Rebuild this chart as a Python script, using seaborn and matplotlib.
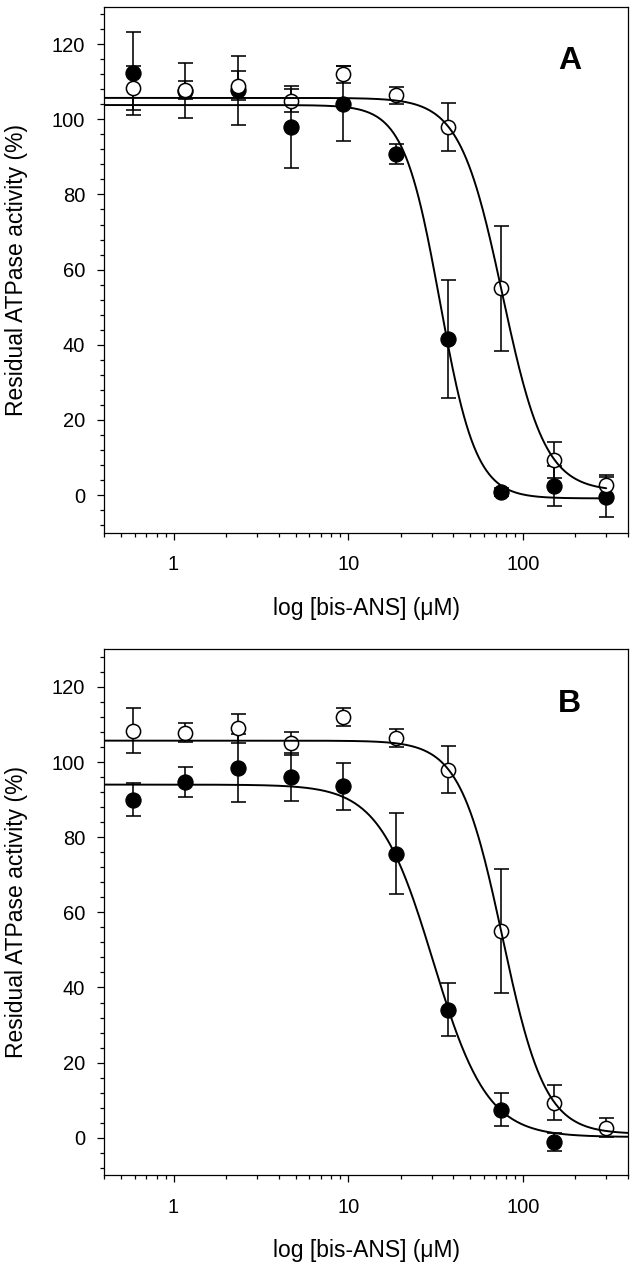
import numpy as np
import pandas as pd
import matplotlib
matplotlib.use("Agg")
import matplotlib.pyplot as plt
import matplotlib.ticker as mticker
import seaborn as sns

# bis-ANS concentrations (uM), two-fold dilution series
conc = [0.586, 1.17, 2.34, 4.69, 9.38, 18.75, 37.5, 75, 150, 300]

# control (open circles), same in both panels
ctrl_mean = [108.4, 107.8, 109.0, 105.0, 112.0, 106.4, 98.0, 55.0, 9.3, 2.7]
ctrl_err = [5.9, 2.5, 3.8, 3.1, 2.3, 2.3, 6.3, 16.6, 4.7, 2.6]

# panel A, filled circles
a_mean = [112.2, 107.6, 107.7, 98.0, 104.2, 90.7, 41.5, 0.8, 2.3, -0.6]
a_err = [11.0, 7.3, 9.1, 11.0, 10.0, 2.7, 15.8, 1.0, 5.3, 5.3]

# panel B, filled circles (no 300 uM point)
b_mean = [90.0, 94.7, 98.4, 96.1, 93.5, 75.6, 34.1, 7.4, -1.2]
b_err = [4.3, 4.0, 9.1, 6.4, 6.3, 10.8, 7.0, 4.4, 2.4]

# four-parameter logistic fits: top, bottom, IC50, hill
fit_ctrl = (105.7, 1.0, 76.4, 3.56)
fit_a = (103.8, -0.9, 33.5, 4.2)
fit_b = (94.0, 0.2, 30.6, 2.8)


def logistic(x, top, bottom, ic50, hill):
    return bottom + (top - bottom) / (1 + (x / ic50) ** hill)


sns.set_theme(style="ticks")
plt.rcParams["font.family"] = ["Liberation Sans", "DejaVu Sans"]
plt.rcParams["text.color"] = "black"
plt.rcParams["axes.labelcolor"] = "black"

fig = plt.figure(figsize=(6.36, 12.72), dpi=100)
ax_a = fig.add_axes([0.1635, 0.5813, 0.824, 0.4135])
ax_b = fig.add_axes([0.1635, 0.0760, 0.824, 0.4135])


def draw_panel(ax, letter, filled_mean, filled_err, fit_filled, x_end):
    n = len(filled_mean)
    xs = np.array(conc[:n])

    ax.errorbar(xs, filled_mean, yerr=filled_err, fmt="none", ecolor="black",
                elinewidth=1.15, capsize=5.4, capthick=1.15, zorder=2)
    ax.errorbar(conc, ctrl_mean, yerr=ctrl_err, fmt="none", ecolor="black",
                elinewidth=1.15, capsize=5.4, capthick=1.15, zorder=2)

    sns.scatterplot(x=xs, y=filled_mean, ax=ax, s=120, color="black",
                    edgecolor="black", linewidth=0.8, zorder=3, legend=False)
    sns.scatterplot(x=conc, y=ctrl_mean, ax=ax, s=105, color="white",
                    edgecolor="black", linewidth=1.1, zorder=4, legend=False)

    grid = np.logspace(np.log10(0.4), np.log10(x_end), 400)
    for params in (fit_filled, fit_ctrl):
        curve = pd.DataFrame({"x": grid, "y": logistic(grid, *params)})
        sns.lineplot(data=curve, x="x", y="y", ax=ax, color="black",
                     linewidth=1.4, zorder=5)

    ax.set_xscale("log")
    ax.set_xlim(0.4, 400)
    ax.set_ylim(-10, 130)

    ax.xaxis.set_major_locator(mticker.FixedLocator([1, 10, 100]))
    ax.xaxis.set_major_formatter(mticker.FixedFormatter(["1", "10", "100"]))
    ax.xaxis.set_minor_locator(mticker.LogLocator(base=10, subs=np.arange(2, 10)))
    ax.xaxis.set_minor_formatter(mticker.NullFormatter())
    ax.yaxis.set_major_locator(mticker.MultipleLocator(20))
    ax.yaxis.set_minor_locator(mticker.MultipleLocator(4))
    ax.set_yticks([0, 20, 40, 60, 80, 100, 120])

    ax.tick_params(axis="both", which="major", direction="out", length=5,
                   width=0.9, labelsize=14.5, colors="black")
    ax.tick_params(axis="both", which="minor", direction="out", length=3,
                   width=0.9, colors="black")
    ax.tick_params(axis="y", which="major", pad=8.5)
    ax.tick_params(axis="x", which="major", pad=11)

    for sp in ax.spines.values():
        sp.set_visible(True)
        sp.set_color("black")
        sp.set_linewidth(0.9)

    ax.set_xlabel("log [bis-ANS] (\u03bcM)", fontsize=16.5, color="black")
    ax.set_ylabel("Residual ATPase activity (%)", fontsize=16.5, color="black")
    ax.xaxis.set_label_coords(0.5, -0.122)
    ax.yaxis.set_label_coords(-0.145, 0.5)

    ax.text(0.889, 0.896, letter, transform=ax.transAxes, fontsize=23,
            fontweight="bold", ha="center", va="center", color="black")


draw_panel(ax_a, "A", a_mean, a_err, fit_a, 300)
draw_panel(ax_b, "B", b_mean, b_err, fit_b, 400)

fig.savefig("out.png", dpi=100, facecolor="white")
